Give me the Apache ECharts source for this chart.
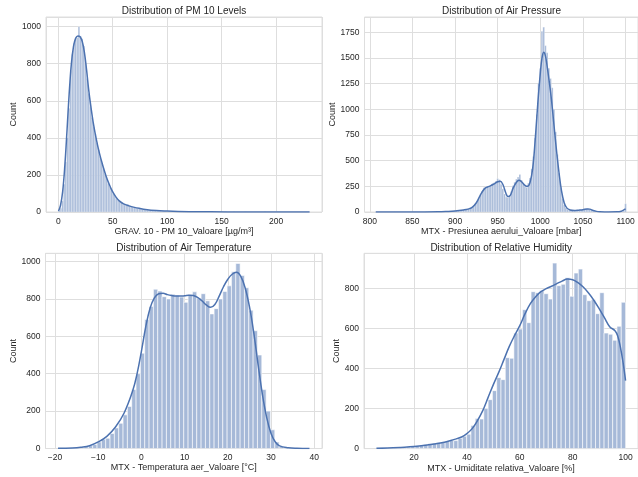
<!DOCTYPE html>
<html><head><meta charset="utf-8">
<script src="https://cdn.jsdelivr.net/npm/echarts@6/dist/echarts.min.js"></script>
<style>html,body{margin:0;padding:0;background:#fff}#c{width:638px;height:477px}</style>
</head><body><div id="c"></div>
<script>
// ---------- PM10 ----------
const pmBinStart = 0.2, pmBinWidth = 1.5;
const pmCounts = [5,20,60,150,270,400,560,760,850,910,935,940,
  1000,950,935,895,
  800,720,640,570,510,460,420,375,335,300,265,235,205,180,155,135,115,98,
  88,75,65,56,50,45,42,38,40,33,30,27,25,22,20,18,16,14,13,11,10,
  9,8,7,7,6,5,5,4,4,4,3,3,3,2,2,2,2,2,1,2,
  1,1,2,1,1,1,1,0,1,1,1,0,1,0,1,
  1,0,1,0,0,1,0,0,1,0,0,0,1,0,0,
  0,0,1,0,0,0,0,0,0,1,0,0,0,0,0,
  0,0,0,0,0,0,1,0,0,0,0,0,0,0,0,
  0,0,0,0,0,0,0,0,0,0,0,0,0,0,0,0,0,0,1];
const pmKdeX = [0.2,2,4,6,8,10,12,14,16,18,20,22,24,26,28,30,32,34,36,38,40,42,44,46,48,50,53,56,60,65,70,75,80,90,100,110,120,140,170,200,230.8];
const pmKdeY = [5,35,110,250,440,640,800,895,938,950,945,920,860,765,655,565,485,420,362,312,268,228,192,160,132,108,80,60,44,33,25,19,14,8,5,3,2,1,0.5,0.3,0];

// ---------- Air pressure ----------
const prBinStart = 807, prBinWidth = 2;
const prCounts = [1,0,0,0,0,0,0,0,0,0, 0,0,0,0,0,0,0,0,0,0, 0,0,0,0,0,0,0,0,0,0, 0,0,0,0,1,0,
  1,1,2,2,3,4,5,6,8,10,
  12,14,16,18,20,22,25,28,33,40,
  48,60,78,100,135,170,205,235,245,250,
  250,262,275,285,300,325,315,270,225,175,
  145,140,165,200,255,290,320,340,365,310,
  275,250,240,280,330,420,540,720,950,1250,
  1400,1760,1800,1620,1550,1400,1300,1210,1000,780,
  560,380,240,130,70,40,25,18,15,14,
  15,17,19,21,23,25,28,32,35,30,
  22,14,8,5,3,2,1,1,1,0,
  1,0,1,0,1,1,2,2,4,10,80];
const prKdeX = [807,850,880,890,900,910,915,920,925,930,935,940,945,950,953,956,960,962,965,968,972,975,978,982,985,988,991,994,997,1000,1002,1004,1006,1008,1010,1013,1016,1019,1022,1025,1028,1031,1035,1040,1045,1050,1055,1058,1062,1066,1070,1080,1090,1095,1098,1100];
const prKdeY = [0,0,2,5,10,20,28,45,90,170,230,250,270,295,300,270,175,150,165,230,290,310,295,260,250,290,420,700,1050,1350,1500,1555,1520,1420,1300,1100,850,600,380,200,90,40,20,15,18,22,30,28,15,6,3,1,2,8,20,30];

// ---------- Air temperature ----------
const tBinStart = -19.3, tBinWidth = 1.0035;
const tCounts = [1,1,2,3,5,7,10,15,22,35,50,55,80,110,135,180,225,315,400,510,
  690,760,852,842,812,800,825,820,810,782,822,838,805,828,790,720,748,800,840,870,
  945,990,925,860,740,630,500,315,200,100,35,10,4,2,1,1,0,1];
const tKdeX = [-19.3,-16,-14,-12,-10,-8,-6,-4,-2,-1,0,1,2,3,4,5,6,7,8,9,10,11,12,13,14,15,16,17,18,19,20,21,22,23,24,25,26,27,28,29,30,31,32,34,36,38.9];
const tKdeY = [1,3,7,15,35,65,115,190,310,400,520,650,750,805,828,830,823,818,815,815,817,820,818,808,790,768,755,770,815,865,905,932,942,920,860,760,620,450,290,165,80,35,14,4,1,0];

// ---------- Relative humidity ----------
const hBinStart = 5.8, hBinWidth = 1.6241;
const hCounts = [1,1,2,2,3,4,6,8,10,13,16,20,24,27,30,33,38,42,40,52,
  62,72,115,150,148,200,245,290,355,345,455,452,578,598,695,630,785,780,790,775,
  748,928,815,822,855,762,878,898,770,740,745,675,780,578,572,542,612,732];
const hKdeX = [5.8,10,15,20,25,30,35,38,40,42,44,46,48,50,52,54,56,58,60,62,64,66,68,70,72,74,76,78,80,82,84,86,88,90,92,94,96,97,98,99,100];
const hKdeY = [2,3,6,10,18,28,45,58,75,100,140,190,255,320,380,445,510,565,615,675,725,760,785,800,812,825,838,848,845,830,808,778,742,700,655,610,590,565,510,435,340];

// ---------- texts ----------
const titles = ['Distribution of PM 10 Levels','Distribution of Air Pressure','Distribution of Air Temperature','Distribution of Relative Humidity'];
const xNames = ['GRAV. 10 - PM 10_Valoare [µg/m³]','MTX - Presiunea aerului_Valoare [mbar]','MTX - Temperatura aer_Valoare [°C]','MTX - Umiditate relativa_Valoare [%]'];
const yName = 'Count';

const FONT = '"Liberation Sans", Arial, sans-serif';
const TXT = '#262626';
const GRID = '#dedede';
const FILL = '#a6b9d8';
const LINE = '#4c72b0';

const grids = [
  {left:46, top:17, width:276, height:195},
  {left:364.5, top:17, width:276, height:195},
  {left:45.5, top:253.3, width:276.5, height:195.2},
  {left:364, top:253.3, width:276.5, height:195.3}
];
const xr = [[-11.3,242.2],[793.8,1114.6],[-22.2,41.8],[1.1,104.7]];
const yr = [[0,1052,200],[0,1899,250],[0,1044,200],[0,977,200]];
const edgeW = [0.25,0.25,0.6,0.6];

function bins(start,width,counts){return counts.map((c,i)=>[start+i*width,start+(i+1)*width,c]);}
function pairs(xs,ys){return xs.map((x,i)=>[x,ys[i]]);}
const fmtX = v => String(v).replace('-','\u2212');
const fmtY = v => String(v);

const option = {
  animation:false,
  backgroundColor:'#ffffff',
  title: titles.map((t,i)=>({text:t, left:grids[i].left+grids[i].width/2 - (i%2===1?1:0), top:grids[i].top-10.5, textAlign:'center', padding:0,
    textStyle:{fontSize:10, fontWeight:'normal', color:TXT, fontFamily:FONT}})),
  grid: grids.map(g=>Object.assign({show:true, borderColor:GRID, borderWidth:1, backgroundColor:'transparent', containLabel:false}, g)),
  xAxis: xr.map((r,i)=>({type:'value', gridIndex:i, min:r[0], max:r[1], name:xNames[i], nameLocation:'middle', nameGap:15,
    nameTextStyle:{fontSize:9, color:TXT, fontFamily:FONT},
    axisLine:{show:false}, axisTick:{show:false},
    axisLabel:{fontSize:8.5, color:TXT, fontFamily:FONT, margin:5, showMinLabel:false, showMaxLabel:false, formatter:fmtX},
    splitLine:{show:true, lineStyle:{color:GRID, width:1}}})),
  yAxis: yr.map((r,i)=>({type:'value', gridIndex:i, min:r[0], max:r[1], interval:r[2], name:yName, nameLocation:'middle', nameGap:(i===3?21:25),
    nameTextStyle:{fontSize:9, color:TXT, fontFamily:FONT},
    axisLine:{show:false}, axisTick:{show:false},
    axisLabel:{fontSize:8.5, color:TXT, fontFamily:FONT, margin:5, showMaxLabel:false, formatter:fmtY},
    splitLine:{show:true, lineStyle:{color:GRID, width:1}}})),
  series: []
};

const histData = [bins(pmBinStart,pmBinWidth,pmCounts), bins(prBinStart,prBinWidth,prCounts), bins(tBinStart,tBinWidth,tCounts), bins(hBinStart,hBinWidth,hCounts)];
const kdeData = [pairs(pmKdeX,pmKdeY), pairs(prKdeX,prKdeY), pairs(tKdeX,tKdeY), pairs(hKdeX,hKdeY)];

function makeRender(w){
  return function(params, api){
    const p0 = api.coord([api.value(0), api.value(2)]);
    const p1 = api.coord([api.value(1), 0]);
    return {type:'rect', shape:{x:p0[0], y:p0[1], width:p1[0]-p0[0], height:p1[1]-p0[1]},
      style:{fill:FILL, stroke:'#ffffff', lineWidth:w}};
  };
}
for (let i=0;i<4;i++){
  option.series.push({type:'custom', xAxisIndex:i, yAxisIndex:i, data:histData[i], encode:{x:[0,1], y:2}, renderItem:makeRender(edgeW[i]), clip:true, silent:true});
  option.series.push({type:'line', xAxisIndex:i, yAxisIndex:i, data:kdeData[i], showSymbol:false, smooth:0.4, clip:true,
    lineStyle:{color:LINE, width:1.5}, silent:true});
}

const chart = echarts.init(document.getElementById('c'), null, {renderer:'canvas'});
chart.setOption(option);
</script>
</body></html>
